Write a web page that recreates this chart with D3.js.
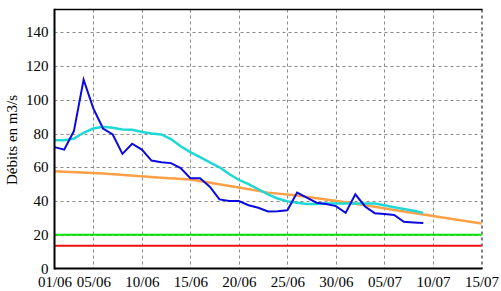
<!DOCTYPE html>
<html>
<head>
<meta charset="utf-8">
<script src="https://cdn.jsdelivr.net/npm/d3@7"></script>
<style>
  html, body { margin: 0; padding: 0; background: #fff; }
  svg { display: block; }
</style>
</head>
<body>
<svg id="chart" width="501" height="291"></svg>
<script>
// ---- Data ----
const startDate = "2023-06-01";
const endDate = "2023-07-15";
const tickDates = ["2023-06-01","2023-06-05","2023-06-10","2023-06-15","2023-06-20","2023-06-25","2023-06-30","2023-07-05","2023-07-10","2023-07-15"];
const yTicks = [0, 20, 40, 60, 80, 100, 120, 140];
const yMax = 153.6;

// observed discharge (blue), daily from 01/06
const observed = [72, 70.5, 81.5, 112, 95, 83, 79.5, 68, 74, 70.5,
  64, 63, 62.5, 59.5, 53.5, 53.5, 48.5, 41, 40, 40,
  37.5, 36, 33.8, 34, 34.5, 45, 42, 39, 38.2, 37,
  33, 44, 36.8, 32.8, 32.3, 31.8, 27.7, 27.3, 27];

// smoothed discharge (cyan), daily from 01/06
const smoothed = [76, 76, 77, 80.5, 83, 84, 83.5, 82.5, 82.3, 81,
  80, 79.5, 76.8, 72.5, 69, 66, 63, 60, 56, 52.5,
  50, 47, 44, 41.5, 39.8, 39, 38.2, 38.3, 38.5, 38.6,
  38.6, 38.6, 38.6, 38.6, 37.5, 36.3, 35.3, 34.2, 33];

// reference curve (orange): [day offset, value]
const referenceDays = [0, 5, 11, 14, 19, 22, 25, 30, 33, 35, 40, 44];
const referenceVals = [57.7, 56.3, 53.8, 52.8, 48.1, 45, 43.3, 39.3, 36.6, 34.7, 30.2, 26.7];

const greenLevel = 20;
const redLevel = 13.5;

// ---- Layout ----
const svg = d3.select("#chart");
const mLeft = 54.5, mRight = 481.5, mTop = 9.5, mBottom = 268.5;
const FONT = '"Liberation Serif"';

const parse = d3.timeParse("%Y-%m-%d");
const t0 = parse(startDate), t1 = parse(endDate);
const x = d3.scaleTime().domain([t0, t1]).range([mLeft, mRight]);
const y = d3.scaleLinear().domain([0, yMax]).range([mBottom, mTop]);
const dayDate = d => d3.timeDay.offset(t0, d);
const fmt = d3.timeFormat("%d/%m");

// gridlines
const grid = svg.append("g").attr("stroke", "#8a8a8a").attr("stroke-width", 1)
  .attr("stroke-dasharray", "3,3").attr("fill", "none");
yTicks.filter(v => v > 0).forEach(v => {
  grid.append("line").attr("x1", mLeft).attr("x2", mRight)
    .attr("y1", Math.round(y(v)) + 0.5).attr("y2", Math.round(y(v)) + 0.5);
});
tickDates.slice(1, -1).forEach(s => {
  const xx = Math.round(x(parse(s))) + 0.5;
  grid.append("line").attr("x1", xx).attr("x2", xx).attr("y1", mTop).attr("y2", mBottom);
});
// right border darker dashed
svg.append("line").attr("x1", mRight + 0.5).attr("x2", mRight + 0.5).attr("y1", mTop).attr("y2", mBottom)
  .attr("stroke", "#555").attr("stroke-width", 1.5).attr("stroke-dasharray", "3,3");

// horizontal threshold lines
svg.append("line").attr("x1", mLeft).attr("x2", mRight).attr("y1", y(greenLevel)).attr("y2", y(greenLevel))
  .attr("stroke", "#00e400").attr("stroke-width", 2);
svg.append("line").attr("x1", mLeft).attr("x2", mRight).attr("y1", y(redLevel)).attr("y2", y(redLevel))
  .attr("stroke", "#ee1010").attr("stroke-width", 2);

const line = d3.line().x(d => x(d[0])).y(d => y(d[1]));

svg.append("path")
  .datum(referenceDays.map((d, i) => [dayDate(d), referenceVals[i]]))
  .attr("d", line).attr("fill", "none").attr("stroke", "#ffa048").attr("stroke-width", 2.5);

svg.append("path")
  .datum(smoothed.map((v, i) => [dayDate(i), v]))
  .attr("d", line).attr("fill", "none").attr("stroke", "#1ed8d4").attr("stroke-width", 2.5);

svg.append("path")
  .datum(observed.map((v, i) => [dayDate(i), v]))
  .attr("d", line).attr("fill", "none").attr("stroke", "#0a0ae0").attr("stroke-width", 2);

// axes frame
svg.append("line").attr("x1", mLeft).attr("x2", mRight + 1).attr("y1", mTop).attr("y2", mTop)
  .attr("stroke", "#000").attr("stroke-width", 1.5);
svg.append("line").attr("x1", mLeft).attr("x2", mLeft).attr("y1", mTop - 0.75).attr("y2", mBottom + 1)
  .attr("stroke", "#000").attr("stroke-width", 2);
svg.append("line").attr("x1", mLeft).attr("x2", mRight + 1).attr("y1", mBottom).attr("y2", mBottom)
  .attr("stroke", "#000").attr("stroke-width", 2);

// y axis labels
const yAxis = d3.axisLeft(y).tickValues(yTicks).tickSize(0).tickPadding(6);
const gy = svg.append("g").attr("transform", `translate(${mLeft},0)`).call(yAxis);
gy.select(".domain").remove();
gy.selectAll("text").style("font-family", FONT).style("font-size", "15px").attr("fill", "#000").attr("dy", "0.3em");

// x axis labels
const xAxis = d3.axisBottom(x).tickValues(tickDates.map(parse)).tickFormat(fmt).tickSize(0).tickPadding(8);
const gx = svg.append("g").attr("transform", `translate(0,${mBottom})`).call(xAxis);
gx.select(".domain").remove();
gx.selectAll("text").style("font-family", FONT).style("font-size", "15px").attr("fill", "#000");

// y title
svg.append("text").attr("transform", `translate(17,${(mTop + mBottom) / 2 + 1}) rotate(-90)`)
  .attr("text-anchor", "middle").style("font-family", FONT).style("font-size", "15px").attr("fill", "#000")
  .text("Débits en m3/s");
</script>
</body>
</html>
